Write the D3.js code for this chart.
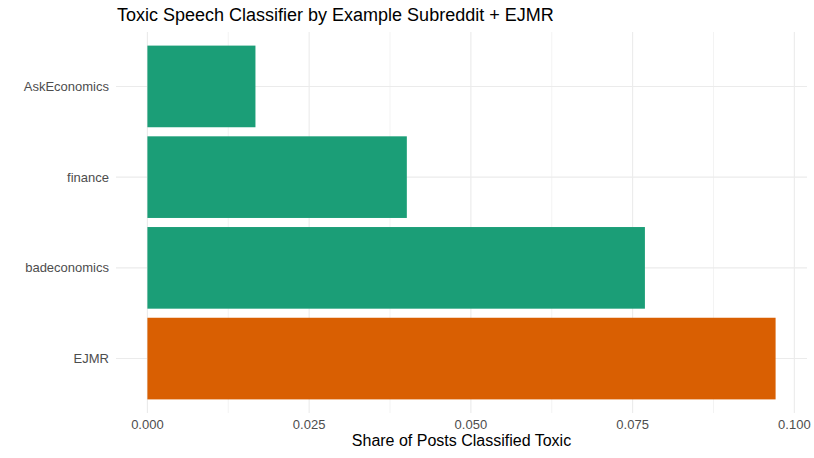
<!DOCTYPE html>
<html>
<head>
<meta charset="utf-8">
<script src="https://cdn.jsdelivr.net/npm/d3@7"></script>
<style>
  body { margin: 0; background: #fff; }
  svg { display: block; font-family: "Liberation Sans", Arial, Helvetica, sans-serif; }
  .grid line { stroke: #ebebeb; }
  .tick-label { fill: #4d4d4d; font-size: 13px; }
</style>
</head>
<body>
<svg width="814" height="458"></svg>
<script>
// data, top to bottom as drawn
const subreddits = ['AskEconomics', 'finance', 'badeconomics', 'EJMR'];
const toxicShare = [0.0167, 0.0401, 0.0769, 0.0971];
const groups = ['subreddit', 'subreddit', 'subreddit', 'ejmr'];
const xTicks = [0, 0.025, 0.05, 0.075, 0.1];
const xMinorTicks = [0.0125, 0.0375, 0.0625, 0.0875];

const title = 'Toxic Speech Classifier by Example Subreddit + EJMR';
const xTitle = 'Share of Posts Classified Toxic';

const colour = d3.scaleOrdinal()
  .domain(['subreddit', 'ejmr'])
  .range(['#1b9e77', '#d95f02']);

const svg = d3.select('svg');
const panel = { left: 116, right: 807, top: 32, bottom: 413 };

// ggplot-style 5% expansion on the continuous axis
const maxVal = d3.max(toxicShare);
const pad = maxVal * 0.05;
const x = d3.scaleLinear()
  .domain([-pad, maxVal + pad])
  .range([panel.left, panel.right]);

// discrete axis with 0.6 unit expansion each side
const step = (panel.bottom - panel.top) / (subreddits.length - 1 + 1.2);
const yPos = d3.scalePoint()
  .domain(subreddits)
  .range([panel.top + 0.6 * step, panel.bottom - 0.6 * step]);
const barH = step * 0.9;

const grid = svg.append('g').attr('class', 'grid');

grid.selectAll('.minor')
  .data(xMinorTicks)
  .enter().append('line')
    .attr('class', 'minor')
    .attr('x1', d => x(d)).attr('x2', d => x(d))
    .attr('y1', panel.top).attr('y2', panel.bottom)
    .attr('stroke-width', 0.6);

grid.selectAll('.major-x')
  .data(xTicks)
  .enter().append('line')
    .attr('class', 'major-x')
    .attr('x1', d => x(d)).attr('x2', d => x(d))
    .attr('y1', panel.top).attr('y2', panel.bottom)
    .attr('stroke-width', 1.1);

grid.selectAll('.major-y')
  .data(subreddits)
  .enter().append('line')
    .attr('class', 'major-y')
    .attr('x1', panel.left).attr('x2', panel.right)
    .attr('y1', d => yPos(d)).attr('y2', d => yPos(d))
    .attr('stroke-width', 1.1);

svg.append('g').selectAll('rect')
  .data(subreddits)
  .enter().append('rect')
    .attr('x', x(0))
    .attr('y', d => yPos(d) - barH / 2)
    .attr('width', (d, i) => x(toxicShare[i]) - x(0))
    .attr('height', barH)
    .attr('fill', (d, i) => colour(groups[i]));

// y labels
svg.append('g').selectAll('text')
  .data(subreddits)
  .enter().append('text')
    .attr('class', 'tick-label')
    .attr('x', panel.left - 7)
    .attr('y', d => yPos(d))
    .attr('dy', '0.35em')
    .attr('text-anchor', 'end')
    .text(d => d);

// x labels
svg.append('g').selectAll('text')
  .data(xTicks)
  .enter().append('text')
    .attr('class', 'tick-label')
    .attr('x', d => x(d))
    .attr('y', 429)
    .attr('text-anchor', 'middle')
    .text(d3.format('.3f'));

svg.append('text')
  .attr('x', (panel.left + panel.right) / 2)
  .attr('y', 446)
  .attr('text-anchor', 'middle')
  .attr('font-size', 16)
  .attr('fill', '#000')
  .text(xTitle);

svg.append('text')
  .attr('x', panel.left + 1)
  .attr('y', 21)
  .attr('font-size', 18)
  .attr('fill', '#000')
  .text(title);
</script>
</body>
</html>
